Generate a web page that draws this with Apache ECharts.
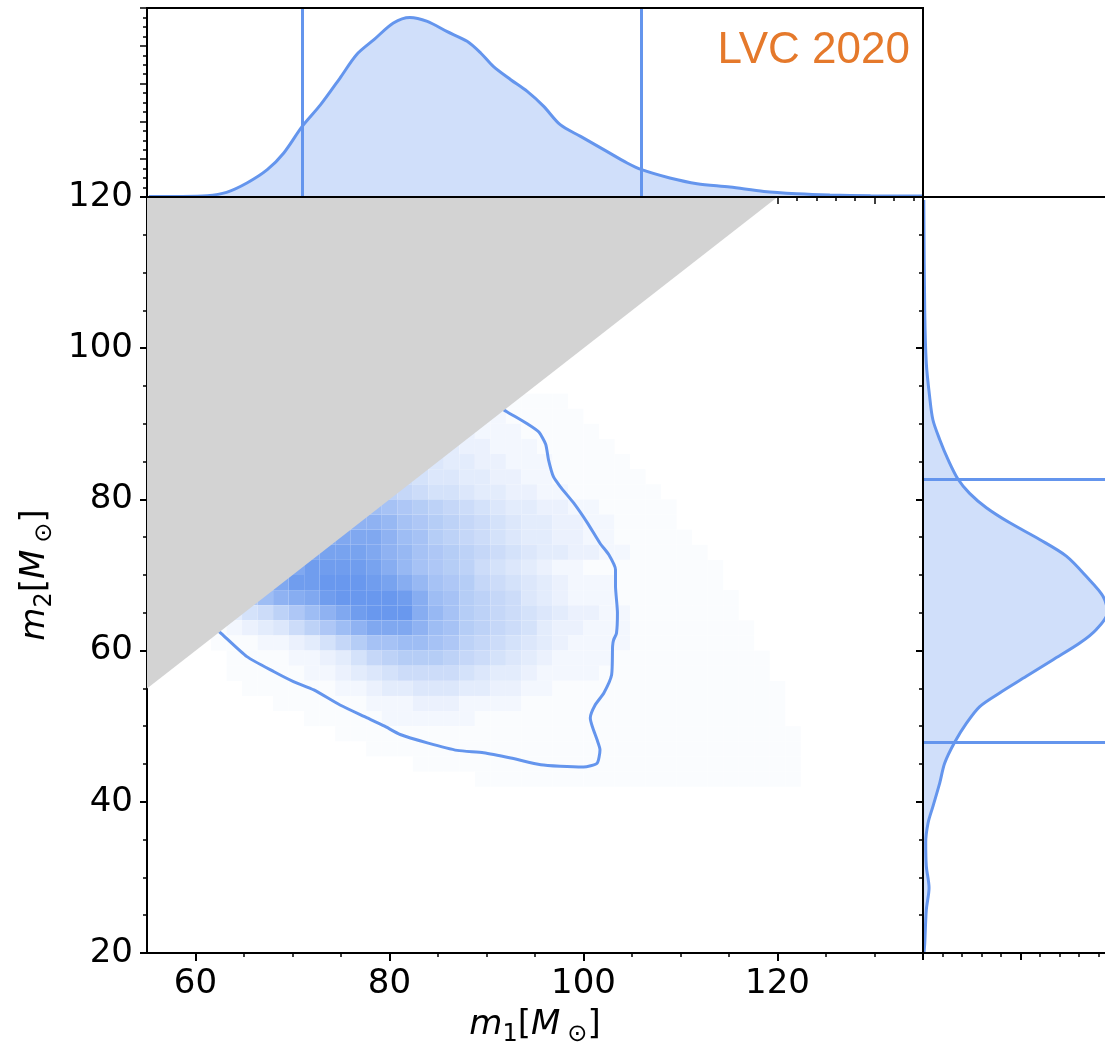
<!DOCTYPE html>
<html>
<head>
<meta charset="utf-8">
<script src="https://cdn.jsdelivr.net/npm/echarts@6/dist/echarts.min.js"></script>
<style>
  html, body { margin: 0; padding: 0; background: #fff; }
  #chart { width: 1105px; height: 1047px; }
</style>
</head>
<body>
<div id="chart"></div>
<script>
// ---- Marginal posterior of the primary mass m1 (top panel) ----
const M1_GRID = [55.2, 57.9, 61.2, 63.2, 65.3, 67.4, 69.1, 71.0, 72.9, 74.9, 76.6, 78.4, 80.4, 82.1, 83.9, 85.9, 88.0, 89.4, 90.7, 92.5, 94.2, 95.9, 97.6, 99.7, 102.4, 104.5, 106.0, 108.9, 111.7, 115.1, 118.6, 122.0, 125.4, 129.6, 135.0];
const M1_DENSITY = [0.05, 0.06, 0.14, 0.49, 1.48, 2.89, 4.66, 7.47, 9.77, 12.59, 15.06, 16.65, 18.41, 19.0, 18.58, 17.52, 16.47, 15.24, 13.82, 12.41, 11.17, 9.59, 7.65, 6.41, 4.83, 3.60, 2.89, 2.01, 1.41, 1.06, 0.59, 0.35, 0.21, 0.12, 0.10];
const M1_INTERVAL = [71.0, 106.0];

// ---- Marginal posterior of the secondary mass m2 (right panel) ----
const M2_GRID = [20.0, 21.3, 25.7, 28.6, 31.5, 34.6, 37.2, 39.4, 42.5, 45.1, 47.9, 50.4, 52.6, 54.4, 56.6, 58.8, 61.0, 62.8, 65.0, 67.2, 69.8, 72.5, 74.7, 76.9, 78.9, 80.8, 82.7, 85.3, 87.9, 90.5, 93.6, 98.0, 104.7, 119.6];
const M2_DENSITY = [0.05, 0.09, 0.17, 0.31, 0.17, 0.14, 0.26, 0.51, 0.86, 1.11, 1.63, 2.23, 2.91, 3.93, 5.30, 6.67, 8.04, 8.89, 9.45, 9.23, 8.38, 7.35, 5.98, 4.45, 3.25, 2.39, 1.79, 1.28, 0.86, 0.51, 0.34, 0.17, 0.09, 0.04];
const M2_INTERVAL = [82.6, 47.9];

// ---- Joint posterior histogram: rows from m2 = 94 downwards, columns from m1 = 60 ----
const M1_BIN_START = 60;
const M1_BIN_WIDTH = 1.6;
const M2_BIN_TOP = 94;
const M2_BIN_HEIGHT = 2;
const JOINT_DENSITY = [
  [0,0,0,0,0,0,0,0,0,0, 0,0,0,0,0,0,0,0,0,0, 1,1,1,1,0,0,0,0,0,0, 0,0,0,0,0,0,0,0,0,0],
  [0,0,0,0,0,0,0,0,0,0, 0,0,0,0,0,0,0,0,2,2, 1,1,1,1,1,0,0,0,0,0, 0,0,0,0,0,0,0,0,0,0],
  [0,0,0,0,0,0,0,0,0,0, 0,0,0,0,0,0,0,3,2,2, 2,1,1,1,1,1,0,0,0,0, 0,0,0,0,0,0,0,0,0,0],
  [0,0,0,0,0,0,0,0,0,0, 0,0,0,0,0,0,4,3,3,2, 2,2,1,1,1,1,1,0,0,0, 0,0,0,0,0,0,0,0,0,0],
  [0,0,0,0,0,0,0,0,0,0, 0,0,0,0,0,5,4,4,3,3, 2,2,2,1,1,1,1,1,0,0, 0,0,0,0,0,0,0,0,0,0],
  [0,0,0,0,0,0,0,0,0,0, 0,0,0,7,6,5,5,4,4,3, 3,2,2,1,1,1,1,1,1,0, 0,0,0,0,0,0,0,0,0,0],
  [0,0,0,0,0,0,0,0,0,0, 0,0,9,8,7,6,6,5,4,4, 3,3,2,2,1,1,1,1,1,1, 0,0,0,0,0,0,0,0,0,0],
  [0,0,0,0,0,0,0,0,0,0, 0,13,12,11,10,9,8,7,6,5, 4,4,3,3,2,2,1,1,1,1, 1,0,0,0,0,0,0,0,0,0],
  [0,0,0,0,0,0,0,0,0,0, 15,15,14,12,11,10,9,8,7,6, 5,4,4,3,3,2,2,1,1,1, 1,0,0,0,0,0,0,0,0,0],
  [0,0,0,0,0,0,0,0,16,17, 17,17,15,13,12,10,9,8,7,6, 5,4,4,3,3,2,2,1,1,1, 1,1,0,0,0,0,0,0,0,0],
  [0,0,0,0,0,0,0,17,18,18, 18,17,15,14,12,11,10,9,8,7, 6,5,4,4,3,3,2,2,1,1, 1,1,1,0,0,0,0,0,0,0],
  [0,0,0,0,0,0,17,19,19,19, 19,18,16,14,12,11,10,9,7,6, 5,4,3,2,2,1,1,1,1,1, 1,1,1,1,0,0,0,0,0,0],
  [0,0,0,0,0,17,19,19,20,20, 20,19,18,16,14,12,11,10,8,7, 6,5,4,3,2,2,2,1,1,1, 1,1,1,1,0,0,0,0,0,0],
  [0,0,0,11,13,15,16,17,19,20, 20,20,20,19,16,13,12,10,9,8, 7,5,4,3,2,2,2,1,1,1, 1,1,1,1,1,0,0,0,0,0],
  [0,0,4,6,7,9,11,13,15,17, 19,20,20,20,16,14,12,10,9,8, 7,6,5,4,3,3,2,2,1,1, 1,1,1,1,1,0,0,0,0,0],
  [0,1,2,3,4,5,7,9,11,13, 15,17,17,17,15,13,12,10,9,8, 7,6,4,3,3,2,2,2,1,1, 1,1,1,1,1,1,0,0,0,0],
  [0,1,1,1,2,2,3,4,6,8, 10,12,12,13,13,12,11,9,8,7, 6,5,4,3,2,2,2,2,1,1, 1,1,1,1,1,1,0,0,0,0],
  [0,0,1,1,1,1,2,2,3,4, 6,8,9,10,10,10,9,8,7,6, 5,4,3,2,2,2,2,1,1,1, 1,1,1,1,1,1,1,0,0,0],
  [0,0,1,1,1,1,1,2,2,3, 4,5,6,7,7,7,7,6,5,4, 4,3,2,2,2,2,1,1,1,1, 1,1,1,1,1,1,1,0,0,0],
  [0,0,0,1,1,1,1,1,1,2, 2,3,4,4,5,5,5,4,4,3, 3,2,2,1,1,1,1,1,1,1, 1,1,1,1,1,1,1,1,0,0],
  [0,0,0,0,0,1,1,1,1,1, 1,2,2,2,3,3,3,2,2,2, 2,1,1,1,1,1,1,1,1,1, 1,1,1,1,1,1,1,1,0,0],
  [0,0,0,0,0,0,0,1,1,1, 1,1,2,2,2,2,2,2,1,1, 1,1,1,1,1,1,1,1,1,1, 1,1,1,1,1,1,1,1,0,0],
  [0,0,0,0,0,0,0,0,0,1, 1,1,1,1,1,1,1,1,1,1, 1,1,1,1,1,1,1,1,1,1, 1,1,1,1,1,1,1,1,1,0],
  [0,0,0,0,0,0,0,0,0,0, 0,1,1,1,1,1,1,1,1,1, 1,1,1,1,1,1,1,1,1,1, 1,1,1,1,1,1,1,1,1,0],
  [0,0,0,0,0,0,0,0,0,0, 0,0,0,0,1,1,1,1,1,1, 1,1,1,1,1,1,1,1,1,1, 1,1,1,1,1,1,1,1,1,0],
  [0,0,0,0,0,0,0,0,0,0, 0,0,0,0,0,0,0,0,1,1, 1,1,1,1,1,1,1,1,1,1, 1,1,1,1,1,1,1,1,1,0]
];
// Colour scale limits of the histogram
const DENSITY_MIN = 0.4;
const DENSITY_MAX = 20;

// ---- 90% credible contour of the joint posterior ----
const CONTOUR_M1 = [62.2, 62.7, 65.3, 68.1, 70.1, 72.2, 74.9, 77.7, 79.5, 81.1, 83.9, 87.0, 89.7, 92.5, 95.6, 97.6, 100.0, 101.4, 101.7, 101.4, 100.9, 100.7, 101.2, 102.1, 102.9, 103.0, 103.1, 103.4, 103.5, 103.3, 103.3, 102.6, 101.7, 100.4, 99.0, 97.6, 96.9, 96.4, 96.1, 95.4, 94.2, 92.1, 91.0];
const CONTOUR_M2 = [62.8, 62.2, 59.2, 57.2, 55.9, 54.8, 52.8, 51.1, 50.0, 48.9, 47.8, 46.8, 46.5, 45.8, 44.9, 44.7, 44.6, 45.1, 46.9, 48.2, 50.0, 51.1, 52.8, 54.4, 56.8, 60.6, 61.4, 62.3, 65.0, 68.5, 70.7, 72.7, 74.2, 76.9, 79.5, 81.7, 83.0, 85.2, 87.3, 88.9, 90.0, 91.6, 92.5];

// ---- Excluded region m2 > m1 ----
const EQUAL_MASS = [55, 120];

// ---- Axis ticks ----
const X_MAJOR = [60, 80, 100, 120];
const X_MINOR = [65, 70, 75, 85, 90, 95, 105, 110, 115, 125, 130];
const TOP_X_MAJOR = [60, 70, 80, 90, 100, 110, 120, 130];
const TOP_X_MINOR = [56, 58, 62, 64, 66, 68, 72, 74, 76, 78, 82, 84, 86, 88, 92, 94, 96, 98, 102, 104, 106, 108, 112, 114, 116, 118, 122, 124, 126, 128, 132, 134];

const BLUE = '#6495ED';
const BLUE_RGB = [100, 149, 237];
const FILL = 'rgba(100,149,237,0.3)';
const FONT = 'DejaVu Sans';
const LINE_W = 3;

function cellColor(v) {
  const t = Math.max(0, Math.min((v - DENSITY_MIN) / (DENSITY_MAX - DENSITY_MIN), 1));
  const a = t * 0.97;
  const c = BLUE_RGB.map(ch => Math.round(255 - a * (255 - ch)));
  return 'rgb(' + c.join(',') + ')';
}

const cells = [];
JOINT_DENSITY.forEach((row, r) => {
  row.forEach((v, k) => {
    if (v > 0) cells.push([M1_BIN_START + k * M1_BIN_WIDTH, M2_BIN_TOP - (r + 1) * M2_BIN_HEIGHT, v]);
  });
});

const massName = (sub) => '{i|m}{s|' + sub + '}{n|[}{i|M}{o|\u2299}{n|]}';
const nameRich = {
  i: { fontFamily: FONT, fontStyle: 'italic', fontSize: 34, lineHeight: 44, color: '#000' },
  n: { fontFamily: FONT, fontSize: 34, lineHeight: 44, color: '#000' },
  s: { fontFamily: FONT, fontSize: 24, lineHeight: 24, verticalAlign: 'bottom', color: '#000' },
  o: { fontFamily: FONT, fontSize: 24, lineHeight: 24, verticalAlign: 'bottom', padding: [0, 0, 0, 7], color: '#000' }
};

const spine = { show: true, lineStyle: { color: '#000', width: 2 } };
const noSplit = { show: false };

const chart = echarts.init(document.getElementById('chart'), null, { renderer: 'canvas' });
chart.setOption({
  animation: false,
  backgroundColor: '#fff',
  grid: [
    { left: 147, top: 197, width: 776, height: 756, show: false, outerBoundsMode: 'none', containLabel: false },
    { left: 147, top: 8, width: 776, height: 189, show: true, borderColor: '#000', borderWidth: 2, z: 10, outerBoundsMode: 'none', containLabel: false },
    { left: 923, top: 197, width: 195, height: 756, show: true, borderColor: '#000', borderWidth: 2, z: 10, outerBoundsMode: 'none', containLabel: false }
  ],
  xAxis: [
    {
      type: 'value', gridIndex: 0, min: 55, max: 135, position: 'bottom',
      axisLine: spine,
      axisTick: { show: true, customValues: X_MAJOR, length: 8, lineStyle: { color: '#000', width: 2 } },
      axisLabel: { show: true, customValues: X_MAJOR, fontFamily: FONT, fontSize: 34, color: '#000', margin: 14 },
      splitLine: noSplit,
      name: massName('1'), nameLocation: 'middle', nameGap: 50,
      nameTextStyle: { rich: nameRich }
    },
    {
      type: 'value', gridIndex: 0, min: 55, max: 135, position: 'bottom',
      axisLine: { show: false },
      axisTick: { show: true, customValues: X_MINOR, length: 4, lineStyle: { color: '#000', width: 1.5 } },
      axisLabel: { show: false }, splitLine: noSplit
    },
    {
      type: 'value', gridIndex: 1, min: 55, max: 135, position: 'bottom',
      axisLine: { show: false },
      axisTick: { show: true, customValues: TOP_X_MAJOR, length: 7, lineStyle: { color: '#000', width: 1.5 } },
      axisLabel: { show: false }, splitLine: noSplit
    },
    {
      type: 'value', gridIndex: 1, min: 55, max: 135, position: 'bottom',
      axisLine: { show: false },
      axisTick: { show: true, customValues: TOP_X_MINOR, length: 4, lineStyle: { color: '#000', width: 1.5 } },
      axisLabel: { show: false }, splitLine: noSplit
    },
    {
      type: 'value', gridIndex: 2, min: 0, max: 10, interval: 5, position: 'bottom',
      axisLine: spine,
      axisTick: { show: true, length: 7, lineStyle: { color: '#000', width: 2 } },
      minorTick: { show: true, splitNumber: 5, length: 4, lineStyle: { color: '#000', width: 1.5 } },
      axisLabel: { show: false }, splitLine: noSplit
    }
  ],
  yAxis: [
    {
      type: 'value', gridIndex: 0, min: 20, max: 120, interval: 20, position: 'left',
      axisLine: spine,
      axisTick: { show: true, length: 7, lineStyle: { color: '#000', width: 2 } },
      minorTick: { show: true, splitNumber: 4, length: 4, lineStyle: { color: '#000', width: 1.5 } },
      axisLabel: { show: true, fontFamily: FONT, fontSize: 34, color: '#000', margin: 14 },
      splitLine: noSplit,
      name: massName('2'), nameLocation: 'middle', nameRotate: 90, nameGap: 85,
      nameTextStyle: { rich: nameRich }
    },
    {
      type: 'value', gridIndex: 1, min: 0, max: 20, interval: 4, position: 'left',
      axisLine: spine,
      axisTick: { show: true, length: 7, lineStyle: { color: '#000', width: 1.5 } },
      minorTick: { show: true, splitNumber: 4, length: 4, lineStyle: { color: '#000', width: 1.5 } },
      axisLabel: { show: false }, splitLine: noSplit
    },
    {
      type: 'value', gridIndex: 2, min: 20, max: 120, interval: 20, position: 'left',
      axisLine: spine,
      axisTick: { show: true, length: 7, lineStyle: { color: '#000', width: 2 } },
      minorTick: { show: true, splitNumber: 4, length: 4, lineStyle: { color: '#000', width: 1.5 } },
      axisLabel: { show: false }, splitLine: noSplit
    }
  ],
  series: [
    {
      name: 'joint posterior',
      type: 'custom', xAxisIndex: 0, yAxisIndex: 0, z: 2,
      encode: { x: 0, y: 1 },
      data: cells,
      renderItem(params, api) {
        const x0 = api.value(0), y0 = api.value(1);
        const a = api.coord([x0, y0 + M2_BIN_HEIGHT]);
        const b = api.coord([x0 + M1_BIN_WIDTH, y0]);
        return {
          type: 'rect',
          shape: { x: a[0], y: a[1], width: b[0] - a[0], height: b[1] - a[1] },
          style: { fill: cellColor(api.value(2)) }
        };
      }
    },
    {
      name: '90% contour',
      type: 'line', xAxisIndex: 0, yAxisIndex: 0, z: 3,
      data: CONTOUR_M1.map((m, i) => [m, CONTOUR_M2[i]]),
      showSymbol: false, smooth: 0.2,
      lineStyle: { color: BLUE, width: LINE_W }
    },
    {
      name: 'm2 > m1',
      type: 'line', xAxisIndex: 0, yAxisIndex: 0, z: 4,
      data: EQUAL_MASS.map(m => [m, m]),
      showSymbol: false,
      lineStyle: { width: 0, color: '#d3d3d3' },
      areaStyle: { color: '#d3d3d3', opacity: 1, origin: 'end' }
    },
    {
      name: 'm1 marginal',
      type: 'line', xAxisIndex: 2, yAxisIndex: 1, z: 3,
      data: M1_GRID.map((m, i) => [m, M1_DENSITY[i]]),
      showSymbol: false, smooth: 0.3,
      lineStyle: { color: BLUE, width: LINE_W },
      areaStyle: { color: FILL, opacity: 1, origin: 'start' },
      markLine: {
        silent: true, symbol: ['none', 'none'], label: { show: false },
        lineStyle: { color: BLUE, width: LINE_W, type: 'solid' },
        data: M1_INTERVAL.map(v => ({ xAxis: v }))
      }
    },
    {
      name: 'm2 marginal fill',
      type: 'custom', xAxisIndex: 4, yAxisIndex: 2, z: 2,
      data: [0],
      renderItem(params, api) {
        const pts = M2_GRID.map((m, i) => api.coord([M2_DENSITY[i], m]));
        return { type: 'polygon', shape: { points: pts, smooth: 0.3 }, style: { fill: FILL } };
      }
    },
    {
      name: 'm2 marginal',
      type: 'line', xAxisIndex: 4, yAxisIndex: 2, z: 3,
      data: M2_GRID.map((m, i) => [M2_DENSITY[i], m]),
      showSymbol: false, smooth: 0.3,
      lineStyle: { color: BLUE, width: LINE_W },
      markLine: {
        silent: true, symbol: ['none', 'none'], label: { show: false },
        lineStyle: { color: BLUE, width: LINE_W, type: 'solid' },
        data: M2_INTERVAL.map(v => ({ yAxis: v }))
      }
    }
  ],
  graphic: [
    {
      type: 'text', x: 910, y: 51, z: 20,
      style: { text: 'LVC 2020', font: '44px "Liberation Sans", Arial, sans-serif', fill: '#E5792B', align: 'right', verticalAlign: 'middle' }
    }
  ]
});
</script>
</body>
</html>
